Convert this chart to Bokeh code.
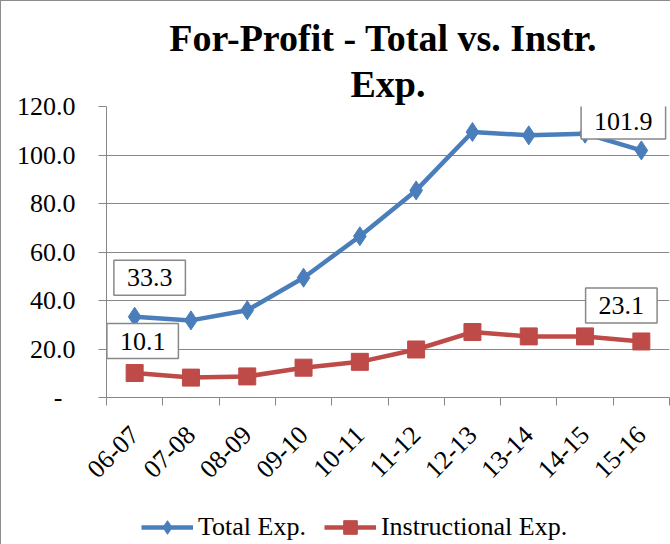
from math import pi
from bokeh.plotting import figure
from bokeh.layouts import column
from bokeh.models import (Range1d, FixedTicker, LinearAxis, CategoricalAxis, NumeralTickFormatter,
                          CustomJSTickFormatter, Legend, LegendItem, Label, ColumnDataSource, Title)
from bokeh.embed import file_html
from bokeh.resources import INLINE

years = ["06-07", "07-08", "08-09", "09-10", "10-11", "11-12", "12-13", "13-14", "14-15", "15-16"]
total_exp = [33.3, 31.8, 36.0, 49.4, 66.5, 85.4, 109.5, 108.1, 108.8, 101.9]
instr_exp = [10.1, 8.2, 8.7, 12.3, 14.7, 19.8, 27.0, 25.2, 25.2, 23.1]
y_ticks = [0, 20, 40, 60, 80, 100, 120]
title_lines = ["For-Profit  - Total vs. Instr.", "Exp."]
series_names = ["Total Exp.", "Instructional Exp."]

BLUE = "#4A7EBB"
RED = "#BE4B48"
GRID = "#878787"
BORDER = "#8c8c8c"
FONT = "Liberation Serif"

src = ColumnDataSource(dict(year=years, idx=list(range(len(years))),
                            total=total_exp, instr=instr_exp))

p = figure(width=670, height=500, x_range=years, y_range=Range1d(0, 120),
           output_backend="svg", toolbar_location=None, x_axis_location=None,
           min_border_left=105, min_border_right=2, min_border_top=105, min_border_bottom=104)
p.outline_line_color = None
p.xgrid.grid_line_color = None
p.ygrid.grid_line_color = GRID
p.ygrid.ticker = FixedTicker(ticks=y_ticks)
p.background_fill_color = "white"
p.border_fill_color = "white"

p.title.text = title_lines[0]
p.title.align = "center"
p.title.text_font = FONT
p.title.text_font_size = "38px"
p.title.text_font_style = "bold"
p.title.text_color = "black"
p.title.standoff = 0
p.add_layout(Title(text=title_lines[1], align="center", text_font=FONT, text_font_size="38px",
                   text_font_style="bold", text_color="black", standoff=4), "above")

yax = p.yaxis[0]
yax.ticker = FixedTicker(ticks=y_ticks)
yax.formatter = NumeralTickFormatter(format="0.0")
yax.major_label_overrides = {0: "-\u2007"}
yax.axis_line_color = GRID
yax.major_tick_line_color = GRID
yax.major_tick_out = 8
yax.major_tick_in = 0
yax.minor_tick_line_color = None
yax.major_label_standoff = 23
yax.major_label_text_font = FONT
yax.major_label_text_font_size = "26px"
yax.major_label_text_color = "black"

tick_axis = LinearAxis(ticker=FixedTicker(ticks=list(range(len(years) + 1))),
                       formatter=CustomJSTickFormatter(code="return ''"),
                       axis_line_color=GRID, major_tick_line_color=GRID,
                       major_tick_out=8, major_tick_in=0, minor_tick_line_color=None,
                       major_label_standoff=0, major_label_text_font_size="1px")
p.add_layout(tick_axis, "below")

cat_axis = CategoricalAxis(axis_line_color=None, major_tick_line_color=None,
                           major_label_orientation=pi / 4, major_label_standoff=19,
                           major_label_text_font=FONT, major_label_text_font_size="26px",
                           major_label_text_color="black")
p.add_layout(cat_axis, "below")

line_kw = dict(line_width=4.5)
p.line("year", "total", source=src, line_color=BLUE, **line_kw)
p.scatter("year", "total", source=src, marker="diamond", size=19, fill_color=BLUE, line_color=BLUE)
p.line("year", "instr", source=src, line_color=RED, **line_kw)
p.scatter("year", "instr", source=src, marker="square", size=17, fill_color=RED, line_color=RED)

# data labels for first and last points (x in synthetic category coordinates)
label_specs = [
    (0, total_exp, 15, 39),
    (len(years) - 1, total_exp, -18, 29),
    (0, instr_exp, 8, 32),
    (len(years) - 1, instr_exp, -20, 36),
]
for idx, series, dx, dy in label_specs:
    p.add_layout(Label(x=idx + 0.5, y=series[idx], x_offset=dx, y_offset=dy,
                       text=f"{series[idx]:.1f}", text_font=FONT, text_font_size="26px",
                       text_align="center", text_baseline="middle", text_color="black",
                       background_fill_color="white", border_line_color="#888888",
                       border_line_width=1.5, padding=(13, 9)))

p.styles = {"border-left": f"1px solid {BORDER}", "border-top": f"1px solid {BORDER}",
            "box-sizing": "border-box"}

# legend strip below the chart (its series renderers sit outside its visible range)
leg = figure(width=670, height=44, x_range=Range1d(-1000, -999), y_range=Range1d(-1000, -999),
             output_backend="svg", toolbar_location=None, min_border=0)
leg.axis.visible = False
leg.grid.visible = False
leg.outline_line_color = None
leg.border_fill_color = "white"
r1 = leg.line("idx", "total", source=src, line_color=BLUE, **line_kw)
s1 = leg.scatter("idx", "total", source=src, marker="diamond", size=19, fill_color=BLUE, line_color=BLUE)
r2 = leg.line("idx", "instr", source=src, line_color=RED, **line_kw)
s2 = leg.scatter("idx", "instr", source=src, marker="square", size=17, fill_color=RED, line_color=RED)
legend = Legend(items=[LegendItem(label=series_names[0], renderers=[r1, s1]),
                       LegendItem(label=series_names[1], renderers=[r2, s2])],
                orientation="horizontal", location=(35, 0),
                glyph_width=52, glyph_height=34, label_standoff=5, spacing=18,
                padding=0, margin=0, border_line_color=None, background_fill_alpha=0,
                label_text_font=FONT, label_text_font_size="26px", label_text_color="black")
leg.add_layout(legend, "center")
leg.styles = {"border-left": f"1px solid {BORDER}", "box-sizing": "border-box"}

layout = column(p, leg, spacing=0)
open("out.html", "w").write(file_html(layout, INLINE))
